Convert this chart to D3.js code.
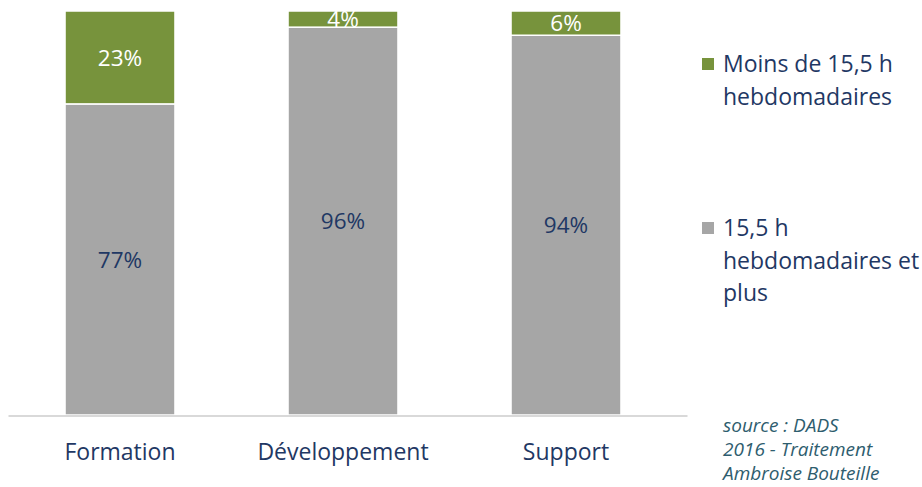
<!DOCTYPE html>
<html>
<head>
<meta charset="utf-8">
<script src="https://d3js.org/d3.v7.min.js"></script>
<style type="text/css">
  body { margin: 0; background: #fff; }
  svg text { font-family: "Open Sans", sans-serif; }
</style>
</head>
<body>
<svg id="chart" width="922" height="487"></svg>
<script>

// categories and series (percent)
const categories = ['Formation', 'Développement', 'Support'];
const moins = [23, 4, 6];
const plus = [77, 96, 94];

const seriesNames = [
  ['Moins de 15,5 h', 'hebdomadaires'],
  ['15,5 h', 'hebdomadaires et', 'plus']
];
const sourceLines = ['source : DADS', '2016 - Traitement', 'Ambroise Bouteille'];

const green = '#77933c';
const grey = '#a6a6a6';
const navy = '#1f3864';

const chart = d3.select('#chart');

const x = d3.scaleBand()
  .domain(categories)
  .range([8.5, 677.5])
  .paddingInner(0.507)
  .paddingOuter(0.2535);

const y = d3.scaleLinear()
  .domain([0, 100])
  .range([415, 11]);

const rows = categories.map((c, i) => ({ cat: c, plus: plus[i], moins: moins[i] }));
const stack = d3.stack().keys(['plus', 'moins'])(rows);
const colors = { plus: grey, moins: green };
const labelColors = { plus: navy, moins: '#fff' };

const layers = chart.selectAll('g.layer')
  .data(stack)
  .enter().append('g')
  .attr('class', 'layer');

layers.selectAll('rect')
  .data(d => d.map(s => ({ key: d.key, s: s })))
  .enter().append('rect')
  .attr('x', d => x(d.s.data.cat))
  .attr('width', x.bandwidth())
  .attr('y', d => y(d.s[1]))
  .attr('height', d => y(d.s[0]) - y(d.s[1]))
  .attr('fill', d => colors[d.key])
  .attr('stroke', '#fff')
  .attr('stroke-width', 1.5);

layers.selectAll('text')
  .data(d => d.map(s => ({ key: d.key, s: s })))
  .enter().append('text')
  .attr('x', d => x(d.s.data.cat) + x.bandwidth() / 2)
  .attr('y', d => (y(d.s[0]) + y(d.s[1])) / 2)
  .attr('dy', '0.36em')
  .attr('text-anchor', 'middle')
  .attr('font-size', 22.5)
  .attr('fill', d => labelColors[d.key])
  .text(d => (d.s[1] - d.s[0]) + '%');

// baseline
chart.append('line')
  .attr('x1', x.range()[0])
  .attr('x2', x.range()[1] + 10)
  .attr('y1', y(0) + 1)
  .attr('y2', y(0) + 1)
  .attr('stroke', '#d9d9d9')
  .attr('stroke-width', 2);

// category axis
const axis = chart.append('g')
  .attr('transform', `translate(0 ${y(0)})`)
  .call(d3.axisBottom(x).tickSize(0).tickPadding(29));
axis.select('.domain').remove();
axis.selectAll('text')
  .attr('font-size', 23)
  .attr('fill', navy)
  .style('font-family', '"Open Sans", sans-serif');

// legend
const legendY = [64, 228];
const legendColors = [green, grey];
const legend = chart.selectAll('g.legend')
  .data(seriesNames)
  .enter().append('g')
  .attr('class', 'legend')
  .attr('transform', (d, i) => `translate(702 ${legendY[i]})`);

legend.append('rect')
  .attr('x', 0)
  .attr('y', -6)
  .attr('width', 12)
  .attr('height', 12)
  .attr('fill', (d, i) => legendColors[i]);

legend.append('text')
  .attr('font-size', 23)
  .attr('fill', navy)
  .selectAll('tspan')
  .data(d => d)
  .enter().append('tspan')
  .attr('x', 21)
  .attr('y', (d, i) => i * 32.5)
  .attr('dy', '0.36em')
  .text(d => d);

// source note
chart.append('text')
  .attr('font-size', 19)
  .attr('font-style', 'italic')
  .attr('fill', '#2e5d6e')
  .selectAll('tspan')
  .data(sourceLines)
  .enter().append('tspan')
  .attr('x', 723)
  .attr('y', (d, i) => 425 + i * 24)
  .attr('dy', '0.36em')
  .text(d => d);

</script>
</body>
</html>
